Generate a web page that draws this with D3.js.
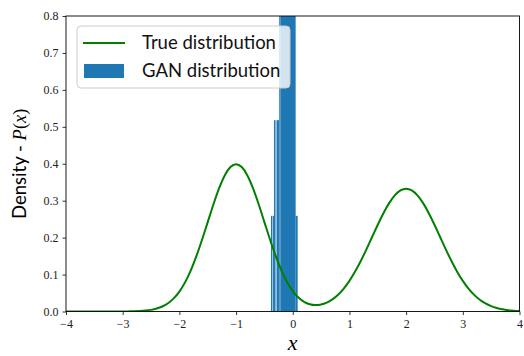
<!DOCTYPE html>
<html>
<head>
<meta charset="utf-8">
<script src="https://cdn.jsdelivr.net/npm/d3@7"></script>
<style>
  html, body { margin: 0; padding: 0; background: #fff; }
  svg { display: block; }
  .tick text { font-family: "Liberation Serif", serif; font-size: 12px; fill: #222; }
</style>
</head>
<body>
<svg id="chart" width="524" height="356"></svg>
<script>
// True density sampled on a 0.1 grid from -4 to 4
const trueX = d3.range(81).map(i => -4 + i * 0.1);
const trueDensity = [
  0.0000, 0.0000, 0.0000, 0.0000, 0.0000, 0.0000, 0.0000, 0.0000, 0.0000, 0.0001,
  0.0001, 0.0003, 0.0006, 0.0012, 0.0024, 0.0044, 0.0079, 0.0136, 0.0224, 0.0355,
  0.0540, 0.0789, 0.1109, 0.1497, 0.1942, 0.2420, 0.2897, 0.3332, 0.3683, 0.3910,
  0.3989, 0.3910, 0.3683, 0.3332, 0.2897, 0.2420, 0.1943, 0.1499, 0.1113, 0.0797,
  0.0553, 0.0377, 0.0261, 0.0196, 0.0174, 0.0190, 0.0242, 0.0330, 0.0456, 0.0622,
  0.0830, 0.1080, 0.1367, 0.1683, 0.2016, 0.2349, 0.2662, 0.2934, 0.3145, 0.3279,
  0.3325, 0.3279, 0.3145, 0.2934, 0.2662, 0.2349, 0.2016, 0.1683, 0.1367, 0.1079,
  0.0829, 0.0619, 0.0450, 0.0318, 0.0219, 0.0146, 0.0095, 0.0060, 0.0037, 0.0022,
  0.0013
];

// GAN sample histogram: bin edges and normalised heights
const ganBinLo   = [-0.3845, -0.3527, -0.3316, -0.3052, -0.2787, -0.2434, -0.2205, 0.0511];
const ganBinHi   = [-0.3616, -0.3316, -0.3139, -0.2875, -0.2434, -0.2293,  0.0511, 0.0864];
const ganDensity = [ 0.259,   0.259,   0.518,   0.518,   0.518,   1.036,   1.295,  0.259];

const xTicks = d3.range(-4, 5, 1);
const yTicks = d3.range(0, 9).map(i => i / 10);

const svg = d3.select("#chart");
const margin = { left: 66, right: 4.5, top: 16, bottom: 44.5 };
const W = 524, H = 356;

const x = d3.scaleLinear().domain([-4, 4]).range([margin.left, W - margin.right]);
const y = d3.scaleLinear().domain([0, 0.8]).range([H - margin.bottom, margin.top]);

svg.append("defs").append("clipPath").attr("id", "plotClip")
  .append("rect")
  .attr("x", x(-4)).attr("y", y(0.8))
  .attr("width", x(4) - x(-4)).attr("height", y(0) - y(0.8));

const plot = svg.append("g").attr("clip-path", "url(#plotClip)");

// histogram bars
plot.selectAll("rect.bar")
  .data(ganDensity.map((d, i) => ({ lo: ganBinLo[i], hi: ganBinHi[i], v: d })))
  .join("rect")
  .attr("class", "bar")
  .attr("x", d => x(d.lo))
  .attr("width", d => x(d.hi) - x(d.lo))
  .attr("y", d => y(d.v))
  .attr("height", d => y(0) - y(d.v))
  .attr("fill", "#1f77b4");

// density curve
const line = d3.line()
  .x((d, i) => x(trueX[i]))
  .y(d => y(d))
  .curve(d3.curveMonotoneX);

plot.append("path")
  .datum(trueDensity)
  .attr("d", line)
  .attr("fill", "none")
  .attr("stroke", "#008000")
  .attr("stroke-width", 2);

// axes
const fmtX = d => (d < 0 ? "\u2212" + Math.abs(d) : String(d));
const xAxis = d3.axisBottom(x).tickValues(xTicks).tickFormat(fmtX).tickSize(3.5).tickPadding(4);
const yAxis = d3.axisLeft(y).tickValues(yTicks).tickFormat(d3.format(".1f")).tickSize(3.5).tickPadding(4);

const gx = svg.append("g").attr("transform", `translate(0,${y(0)})`).call(xAxis);
const gy = svg.append("g").attr("transform", `translate(${x(-4)},0)`).call(yAxis);
[gx, gy].forEach(g => {
  g.select(".domain").remove();
  g.selectAll(".tick line").attr("stroke", "#000").attr("stroke-width", 0.8);
});

// frame
svg.append("rect")
  .attr("x", x(-4)).attr("y", y(0.8))
  .attr("width", x(4) - x(-4)).attr("height", y(0) - y(0.8))
  .attr("fill", "none").attr("stroke", "#000").attr("stroke-width", 0.9);

// axis labels
svg.append("text")
  .attr("x", x(0)).attr("y", 350)
  .attr("text-anchor", "middle")
  .attr("font-family", "Liberation Serif, serif")
  .attr("font-style", "italic")
  .attr("font-size", 22)
  .text("x");

const ylab = svg.append("text")
  .attr("transform", `translate(26,${(y(0) + y(0.8)) / 2}) rotate(-90)`)
  .attr("text-anchor", "middle")
  .attr("font-size", 18.5);
ylab.append("tspan").attr("font-family", "Lato, sans-serif").text("Density - ");
ylab.append("tspan").attr("font-family", "Liberation Serif, serif").attr("font-style", "italic").text("P");
ylab.append("tspan").attr("font-family", "Liberation Serif, serif").text("(");
ylab.append("tspan").attr("font-family", "Liberation Serif, serif").attr("font-style", "italic").text("x");
ylab.append("tspan").attr("font-family", "Liberation Serif, serif").text(")");

// legend
const legend = svg.append("g");
legend.append("rect")
  .attr("x", 77).attr("y", 26).attr("width", 213).attr("height", 62)
  .attr("rx", 4)
  .attr("fill", "#fff").attr("fill-opacity", 0.8)
  .attr("stroke", "#ccc").attr("stroke-width", 1);
legend.append("line")
  .attr("x1", 83).attr("x2", 125).attr("y1", 43).attr("y2", 43)
  .attr("stroke", "#008000").attr("stroke-width", 2);
legend.append("rect")
  .attr("x", 84).attr("y", 64).attr("width", 40).attr("height", 14)
  .attr("fill", "#1f77b4");
const legendLabels = ["True distribution", "GAN distribution"];
legend.selectAll("text.lbl")
  .data(legendLabels)
  .join("text")
  .attr("class", "lbl")
  .attr("x", 142)
  .attr("y", (d, i) => 49 + i * 28)
  .attr("font-family", "Lato, sans-serif")
  .attr("font-size", 18.5)
  .attr("fill", "#111")
  .text(d => d);
</script>
</body>
</html>
